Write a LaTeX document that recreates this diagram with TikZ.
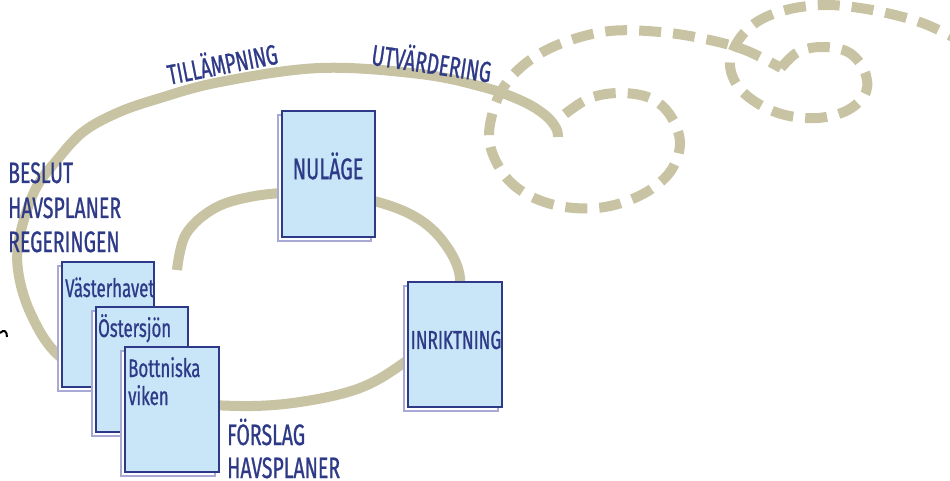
\documentclass[tikz,border=0pt]{standalone}
\usepackage{fontspec}
\setmainfont[FakeStretch=0.66, FakeBold=0.8]{Fira Sans}
\definecolor{trailc}{HTML}{C8C3A3}
\definecolor{navy}{HTML}{2E3A87}
\definecolor{boxfill}{HTML}{C9E6F8}
\definecolor{lav}{HTML}{A9A9D6}
\tikzset{
  trail/.style={draw=trailc, line width=10pt},
  trailDashed/.style={draw=trailc, line width=10pt, dash pattern=on 22pt off 12pt},
  pagebox/.style={draw=navy, line width=2pt, fill=boxfill, inner sep=0pt, rectangle},
  backpage/.style={draw=lav, line width=1.5pt, fill=white},
  lbl/.style={text=navy, inner sep=0pt, anchor=base west},
}
\begin{document}
\begin{tikzpicture}[x=1pt,y=-1pt]
\useasboundingbox (0,0) rectangle (950,481);
\fill[white] (0,0) rectangle (950,481);

% solid trail
\draw[trail] plot[smooth, tension=0.6] coordinates {(177,270) (186,234) (215,208) (255,196) (300,193) (360,198) (410,214) (442,240) (460,278) (450,325) (405,362) (360,388) (300,402) (240,406) (170,400) (100,380) (56,353) (30,312) (18,270) (20,235) (35,190) (57,160) (83,132) (117,113) (157,99) (220,82) (320,68) (420,74) (483,87) (522,101) (545,115) (556,128) (558,137)};

% dashed spiral 1
\draw[trailDashed] plot[smooth, tension=0.6] coordinates {(565,114) (590,98) (620,93) (650,98) (670,115) (680,143) (670,172) (643,194) (605,207) (565,207) (530,196) (505,176) (490,145) (492,115) (505,85) (530,60) (565,42) (610,31) (660,32) (705,39) (745,50) (781,68)};
% dashed spiral 2
\draw[trailDashed] plot[smooth, tension=0.6] coordinates {(781,68) (798,52) (822,47) (848,52) (864,70) (866,92) (848,110) (818,118) (785,115) (757,103) (737,85) (730,62) (740,38) (760,20) (790,9) (825,5) (860,8) (895,15) (925,24) (955,38)};

% pages: back sheet and front sheet
\draw[backpage] (328.5-46.5-4,174-63+4) rectangle (328.5+46.5-4,174+63+4);
\node[pagebox, minimum width=93pt, minimum height=126pt] (nul) at (328.5,174) {};
\draw[backpage] (455-47-4,344.5-62.5+4) rectangle (455+47-4,344.5+62.5+4);
\node[pagebox, minimum width=94pt, minimum height=125pt] (inr) at (455,344.5) {};
\draw[backpage] (108-46-4,324.5-62.5+4) rectangle (108+46-4,324.5+62.5+4);
\node[pagebox, minimum width=92pt, minimum height=125pt] (vast) at (108,324.5) {};
\draw[backpage] (142-46-4,369.5-62.5+4) rectangle (142+46-4,369.5+62.5+4);
\node[pagebox, minimum width=92pt, minimum height=125pt] (ost) at (142,369.5) {};
\draw[backpage] (172-47-4,409.5-62.5+4) rectangle (172+47-4,409.5+62.5+4);
\node[pagebox, minimum width=94pt, minimum height=125pt] (bot) at (172,409.5) {};

% texts
\node[text=navy, inner sep=0pt, font=\fontsize{30}{32}\selectfont] (tnul) at (328,166) {NULÄGE};
\node[text=navy, inner sep=0pt, font=\fontsize{26}{28}\selectfont] (tinr) at (456,340) {INRIKTNING};
\node[lbl, font=\fontsize{25.5}{28}\selectfont] (tvast) at (65,297) {Västerhavet};
\node[lbl, font=\fontsize{25.5}{28}\selectfont] (tost) at (98,337) {Östersjön};
\node[lbl, font=\fontsize{25.5}{28}\selectfont] (tbot1) at (128,377) {Bottniska};
\node[lbl, font=\fontsize{25.5}{28}\selectfont] (tbot2) at (128,405) {viken};

\node[lbl, font=\fontsize{29.5}{31}\selectfont] (b1) at (8,183) {BESLUT};
\node[lbl, font=\fontsize{29.5}{31}\selectfont] (b2) at (8,218) {HAVSPLANER};
\node[lbl, font=\fontsize{29.5}{31}\selectfont] (b3) at (8,252) {REGERINGEN};
\node[lbl, font=\fontsize{29.5}{31}\selectfont] (f1) at (227,445) {FÖRSLAG};
\node[lbl, font=\fontsize{29.5}{31}\selectfont] (f2) at (227,478) {HAVSPLANER};

\node[text=navy, inner sep=0pt, rotate=11, font=\fontsize{28}{30}\selectfont] (till) at (222,62) {TILLÄMPNING};
\node[text=navy, inner sep=0pt, rotate=-8.5, font=\fontsize{29}{30}\selectfont] (utv) at (432,61) {UTVÄRDERING};

% small black fragment at left edge
\draw[line width=2pt, black] (0,333) .. controls (4,329) and (7,331) .. (7,337);
\end{tikzpicture}
\end{document}
